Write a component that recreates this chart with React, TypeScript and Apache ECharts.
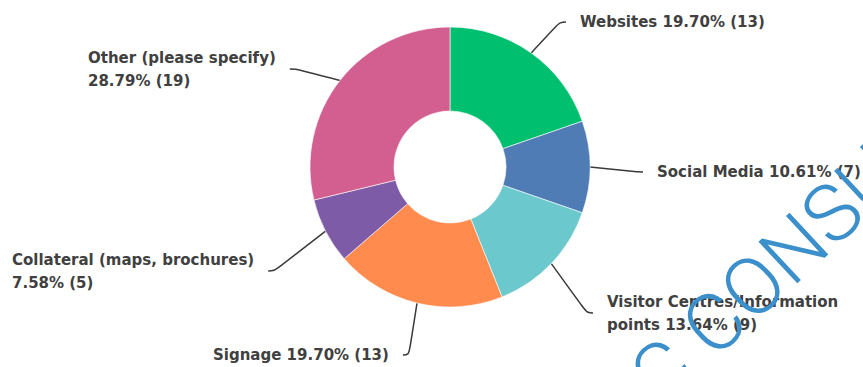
import React, { useEffect, useRef } from "react";
import * as echarts from "echarts";

const categories = [
  "Websites",
  "Social Media",
  "Visitor Centres/Information points",
  "Signage",
  "Collateral (maps, brochures)",
  "Other (please specify)",
];
const counts = [13, 7, 9, 13, 5, 19];
const sliceColors = ["#00BF6F", "#507CB6", "#6BC8CD", "#FF8B4F", "#7D5BA6", "#D25F90"];
const breakAfter = [null, null, "Information", null, "brochures)", "specify)"];
const labelAnchors = [
  [580, 22],
  [657, 172],
  [607, 313],
  [213, 355],
  [12, 271],
  [88, 69],
];
const watermarkText = "IC CONSULTING";

const PAD = 14;

export default function App() {
  const ref = useRef<HTMLDivElement>(null);
  useEffect(() => {
    document.body.style.margin = "0";
    const chart = echarts.init(ref.current!, null, { renderer: "svg" });
    const total = counts.reduce((a, b) => a + b, 0);
    const data = categories.map((name, i) => {
      const pct = ((counts[i] / total) * 100).toFixed(2);
      let text = `${name} ${pct}% (${counts[i]})`;
      const w = breakAfter[i];
      if (w) text = text.replace(w + " ", w + "\n");
      return {
        name,
        value: counts[i],
        itemStyle: { color: sliceColors[i] },
        label: { formatter: text },
      };
    });
    chart.setOption({
      animation: false,
      series: [
        {
          type: "pie",
          center: [450, 167],
          radius: [56, 140],
          startAngle: 90,
          clockwise: true,
          data,
          itemStyle: { borderColor: "#ffffff", borderWidth: 0.6 },
          label: {
            show: true,
            position: "outside",
            color: "#404040",
            fontFamily: "DejaVu Sans",
            fontWeight: "bold",
            fontSize: 15,
            lineHeight: 23,
            align: "left",
            padding: [0, PAD],
            backgroundColor: "rgba(255,255,255,0)",
          },
          labelLine: {
            show: true,
            length: 10,
            length2: 6,
            smooth: 0.4,
            lineStyle: { color: "#3a3a3a", width: 1.5 },
          },
          labelLayout: (p: any) => {
            const [x, y] = labelAnchors[p.dataIndex];
            return { x: x - PAD, y, align: "left", verticalAlign: "middle" };
          },
        },
      ],
      graphic: [
        {
          type: "text",
          x: 628,
          y: 404,
          rotation: 0.75,
          z: 100,
          style: {
            text: watermarkText,
            x: 0,
            y: 0,
            align: "left",
            verticalAlign: "middle",
            fontSize: 80,
            fontFamily: "Roboto",
            fontWeight: 300,
            fill: "#3b8fcb",
          },
        },
      ],
    });
    return () => chart.dispose();
  }, []);
  return <div ref={ref} style={{ width: 863, height: 367 }} />;
}
